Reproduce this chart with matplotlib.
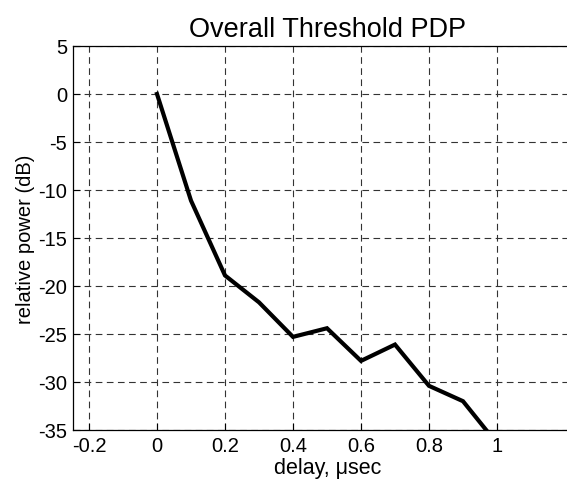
import matplotlib
matplotlib.use("Agg")
import matplotlib.pyplot as plt

plt.rcParams['font.family'] = ['Liberation Sans', 'DejaVu Sans']
plt.rcParams['axes.unicode_minus'] = False

delay_us = [0.0, 0.1, 0.2, 0.3, 0.4, 0.5, 0.6, 0.7, 0.8, 0.9, 1.0]
power_db = [0.0, -11.1, -18.9, -21.7, -25.3, -24.4, -27.8, -26.1, -30.4, -32.0, -36.4]
xticks = [-0.2, 0, 0.2, 0.4, 0.6, 0.8, 1]
xticklabels = ['-0.2', '0', '0.2', '0.4', '0.6', '0.8', '1']
yticks = [-35, -30, -25, -20, -15, -10, -5, 0, 5]

W, H = 567, 485
fig = plt.figure(figsize=(W / 100, H / 100), dpi=100)
xmin, xmax = -0.2485, 1.25
ax = fig.add_axes([72.5 / W, (H - 431) / H, (xmax - xmin) * 340 / W, 384 / H])
ax.plot(delay_us, power_db, color='black', linewidth=3.0, solid_joinstyle='miter')
ax.set_xlim(xmin, xmax)
ax.set_ylim(-35, 5)
ax.set_xticks(xticks)
ax.set_xticklabels(xticklabels)
ax.set_yticks(yticks)
ax.tick_params(direction='in', length=5, labelsize=14.5, width=0.8)
ax.tick_params(axis='x', pad=4.5)
ax.tick_params(axis='y', pad=4)
ax.grid(True, color='#333333', linestyle=(0, (6, 4)), linewidth=0.8)
for s in ax.spines.values():
    s.set_linewidth(0.9)
ax.spines['right'].set_visible(False)
ax.set_title('Overall Threshold PDP', fontsize=19.5, pad=7)
ax.set_xlabel('delay, μsec', fontsize=15.5, labelpad=1)
ax.set_ylabel('relative power (dB)', fontsize=14.5, labelpad=2)
fig.savefig('out.png', dpi=100)
